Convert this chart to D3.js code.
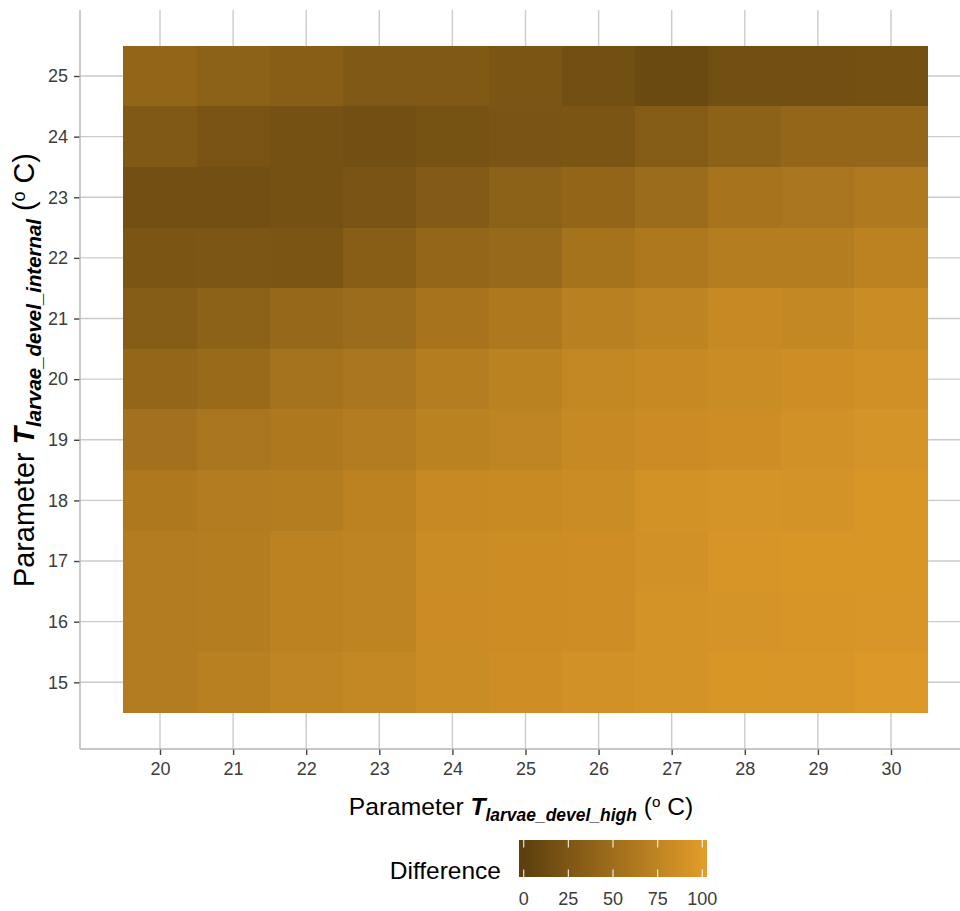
<!DOCTYPE html>
<html>
<head>
<meta charset="utf-8">
<script src="https://cdn.jsdelivr.net/npm/d3@7"></script>
<style>
  body { margin: 0; background: #fff; }
  text { font-family: "Liberation Sans", Arial, sans-serif; }
</style>
</head>
<body>
<svg id="viz" width="960" height="911"></svg>
<script>
  // parameter levels on each axis
  let xLevels = [20, 21, 22, 23, 24, 25, 26, 27, 28, 29, 30];
  let yLevels = [25, 24, 23, 22, 21, 20, 19, 18, 17, 16, 15];

  // Difference, one row per y level (top row = 25), columns follow xLevels
  let row25 = [41, 36, 33, 28, 27, 23, 17, 11, 17, 17, 18];
  let row24 = [27, 21, 19, 17, 20, 22, 23, 31, 36, 42, 42];
  let row23 = [17, 17, 19, 22, 30, 36, 41, 48, 57, 58, 63];
  let row22 = [23, 24, 23, 33, 42, 45, 56, 61, 67, 67, 73];
  let row21 = [31, 36, 44, 48, 57, 62, 70, 75, 80, 78, 83];
  let row20 = [42, 46, 55, 58, 67, 72, 77, 80, 83, 86, 88];
  let row19 = [54, 58, 62, 66, 72, 76, 80, 84, 86, 89, 92];
  let row18 = [61, 66, 67, 73, 80, 82, 83, 90, 92, 91, 94];
  let row17 = [66, 67, 73, 75, 83, 85, 86, 89, 93, 94, 94];
  let row16 = [66, 67, 73, 75, 84, 85, 86, 91, 92, 93, 95];
  let row15 = [66, 70, 76, 78, 83, 86, 89, 91, 94, 95, 98];
  let rows = [row25, row24, row23, row22, row21, row20, row19, row18, row17, row16, row15];

  let legendBreaks = [0, 25, 50, 75, 100];

  // flatten to one record per tile
  let cells = [];
  rows.forEach((r, i) => {
    r.forEach((v, j) => cells.push({ x: xLevels[j], y: yLevels[i], value: v }));
  });

  // panel box (pixels)
  let panelLeft = 80, panelRight = 960, panelTop = 10, panelBottom = 749;

  let svg = d3.select("#viz");

  let xScale = d3.scaleLinear().domain([20, 30]).range([160, 891]);
  let yScale = d3.scaleLinear().domain([15, 25]).range([682.3, 76]);
  let colour = d3.scaleLinear().domain([0, 100]).range(["#5c400e", "#e09b29"]);

  let cellW = xScale(21) - xScale(20);
  let cellH = yScale(15) - yScale(16);

  // grid lines
  svg.append("g")
    .selectAll("line")
    .data(xLevels)
    .enter()
    .append("line")
    .attr("x1", d => xScale(d)).attr("x2", d => xScale(d))
    .attr("y1", panelTop).attr("y2", panelBottom)
    .attr("stroke", "#cbcbcb").attr("stroke-width", 1.4);

  svg.append("g")
    .selectAll("line")
    .data(yLevels)
    .enter()
    .append("line")
    .attr("y1", d => yScale(d)).attr("y2", d => yScale(d))
    .attr("x1", panelLeft).attr("x2", panelRight)
    .attr("stroke", "#cbcbcb").attr("stroke-width", 1.4);

  // tiles
  svg.append("g")
    .attr("shape-rendering", "crispEdges")
    .selectAll("rect")
    .data(cells)
    .enter()
    .append("rect")
    .attr("x", d => xScale(d.x) - cellW / 2)
    .attr("y", d => yScale(d.y) - cellH / 2)
    .attr("width", cellW + 0.5)
    .attr("height", cellH + 0.5)
    .attr("fill", d => colour(d.value));

  // axes
  let yAxis = svg.append("g")
    .attr("transform", `translate(${panelLeft},0)`)
    .call(d3.axisLeft(yScale).tickValues(yLevels).tickSize(6).tickPadding(6).tickFormat(d3.format("d")));
  let xAxis = svg.append("g")
    .attr("transform", `translate(0,${panelBottom})`)
    .call(d3.axisBottom(xScale).tickValues(xLevels).tickSize(6).tickPadding(7).tickFormat(d3.format("d")));

  [xAxis, yAxis].forEach(a => {
    a.select(".domain").remove();
    a.selectAll(".tick line").attr("stroke", "#444").attr("stroke-width", 1.4);
    a.selectAll(".tick text").attr("fill", "#3c3c3c").style("font-size", "18px");
  });

  // axis lines
  svg.append("line")
    .attr("x1", panelLeft).attr("x2", panelLeft)
    .attr("y1", panelTop).attr("y2", panelBottom)
    .attr("stroke", "#b5b5b5").attr("stroke-width", 1.4);
  svg.append("line")
    .attr("x1", panelLeft).attr("x2", panelRight)
    .attr("y1", panelBottom).attr("y2", panelBottom)
    .attr("stroke", "#b5b5b5").attr("stroke-width", 1.4);

  // axis titles: Parameter T_sub (°C)
  function addTitle(g, sub, size) {
    let subSize = size * 0.71, supSize = size * 0.62;
    let t = g.append("text")
      .attr("text-anchor", "middle")
      .style("font-size", size + "px")
      .attr("fill", "#000");
    t.append("tspan").text("Parameter ");
    t.append("tspan").text("T").style("font-weight", "bold").style("font-style", "italic");
    t.append("tspan").text(sub)
      .style("font-weight", "bold").style("font-style", "italic").style("font-size", subSize + "px")
      .attr("dy", size * 0.25);
    t.append("tspan").text(" (").attr("dy", -size * 0.25);
    t.append("tspan").text("o").style("font-size", supSize + "px").attr("dy", -size * 0.33);
    t.append("tspan").text(" C)").attr("dy", size * 0.33);
  }

  addTitle(svg.append("g").attr("transform", "translate(521,815)"), "larvae_devel_high", 24.6);
  addTitle(svg.append("g").attr("transform", "translate(34,370) rotate(-90)"), "larvae_devel_internal", 28.8);

  // legend
  let barX = 519, barY = 840, barW = 188, barH = 37;
  let legendScale = d3.scaleLinear().domain([0, 100]).range([barX + barW / 40, barX + barW - barW / 40]);

  let grad = svg.append("defs").append("linearGradient")
    .attr("id", "diffGrad")
    .attr("gradientUnits", "userSpaceOnUse")
    .attr("x1", legendScale(0)).attr("x2", legendScale(100))
    .attr("y1", 0).attr("y2", 0);
  d3.range(0, 101, 10).forEach(v => {
    grad.append("stop").attr("offset", v + "%").attr("stop-color", colour(v));
  });

  svg.append("rect")
    .attr("x", barX).attr("y", barY)
    .attr("width", barW).attr("height", barH)
    .attr("fill", "url(#diffGrad)");

  let legendTicks = svg.append("g");
  legendTicks.selectAll(".top")
    .data(legendBreaks)
    .enter()
    .append("line")
    .attr("x1", d => legendScale(d)).attr("x2", d => legendScale(d))
    .attr("y1", barY).attr("y2", barY + barH / 5)
    .attr("stroke", "#fff").attr("stroke-width", 1.2).attr("opacity", 0.85);
  legendTicks.selectAll(".bottom")
    .data(legendBreaks)
    .enter()
    .append("line")
    .attr("x1", d => legendScale(d)).attr("x2", d => legendScale(d))
    .attr("y1", barY + barH - barH / 5).attr("y2", barY + barH)
    .attr("stroke", "#fff").attr("stroke-width", 1.2).attr("opacity", 0.85);

  svg.append("g")
    .selectAll("text")
    .data(legendBreaks)
    .enter()
    .append("text")
    .attr("x", d => legendScale(d))
    .attr("y", 905)
    .attr("text-anchor", "middle")
    .attr("fill", "#3c3c3c")
    .style("font-size", "18px")
    .text(d => d);

  svg.append("text")
    .attr("x", 501).attr("y", 879)
    .attr("text-anchor", "end")
    .style("font-size", "24.5px")
    .text("Difference");
</script>
</body>
</html>
